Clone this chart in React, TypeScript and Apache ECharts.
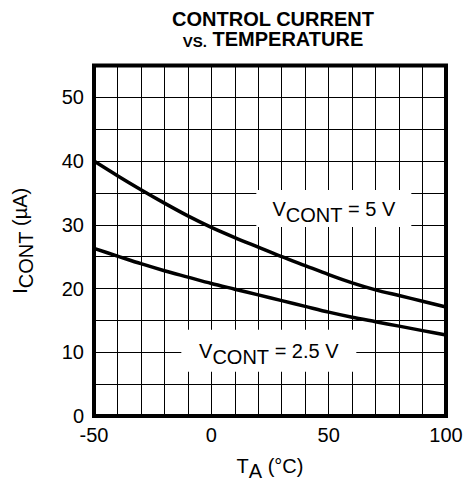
import React, { useEffect, useRef } from "react";
import * as echarts from "echarts";

const temps = [-50, -40, -30, -20, -10, 0, 10, 20, 30, 40, 50, 60, 70, 80, 90, 100];
const icont5V = [40.0, 37.7, 35.5, 33.4, 31.4, 29.6, 28.0, 26.5, 25.0, 23.6, 22.2, 20.9, 19.8, 18.9, 18.0, 17.1];
const icont2V5 = [26.3, 25.1, 23.9, 22.8, 21.8, 20.8, 19.9, 19.0, 18.1, 17.2, 16.3, 15.5, 14.8, 14.1, 13.4, 12.7];
const xTickLabels = [-50, 0, 50, 100];
const yTickLabels = [0, 10, 20, 30, 40, 50];
const label5V = { text: "= 5 V", at: [52.2, 32.56] };
const label2V5 = { text: "= 2.5 V", at: [24.5, 10.23] };

const FONT = "'Liberation Sans', Arial, sans-serif";

export default function App() {
  const ref = useRef<HTMLDivElement>(null);
  useEffect(() => {
    if (!ref.current) return;
    const chart = echarts.init(ref.current, undefined, { renderer: "svg" });
    const rich = {
      v: { fontSize: 20, fontFamily: FONT, color: "#000" },
      s: { fontSize: 20, fontFamily: FONT, color: "#000", padding: [13, 0, 0, 0] },
    };
    const richX = {
      v: { fontSize: 20, fontFamily: FONT, color: "#000" },
      s: { fontSize: 20, fontFamily: FONT, color: "#000", padding: [11, 0, 0, 0] },
    };
    chart.setOption({
      animation: false,
      backgroundColor: "#fff",
      textStyle: { fontFamily: FONT },
      graphic: [
        {
          type: "text",
          x: 273,
          y: 9,
          style: {
            text: "{b|CONTROL CURRENT}\n{s|VS.}{b| TEMPERATURE}",
            textAlign: "center",
            rich: {
              b: { fontSize: 20, fontWeight: "bold", fontFamily: FONT, lineHeight: 20, fill: "#000" },
              s: { fontSize: 15, fontWeight: "bold", fontFamily: FONT, lineHeight: 20, fill: "#000", padding: [4, 0, 0, 0] },
            },
          },
        },
      ],
      grid: {
        left: 94,
        top: 65.5,
        width: 352,
        height: 350.5,
        show: true,
        borderColor: "#000",
        borderWidth: 4,
        containLabel: false,
        outerBoundsMode: "none",
      },
      xAxis: {
        type: "value",
        min: -50,
        max: 100,
        interval: 10,
        axisLine: { show: false },
        axisTick: { show: false },
        splitLine: { show: true, lineStyle: { color: "#000", width: 1 } },
        axisLabel: {
          margin: 9,
          fontSize: 20,
          color: "#000",
          fontFamily: FONT,
          formatter: (v: number) => (xTickLabels.includes(v) ? String(v) : ""),
        },
        name: "{v|T}{s|A}{v| (°C)}",
        nameLocation: "middle",
        nameGap: 34,
        nameTextStyle: { rich: richX },
      },
      yAxis: {
        type: "value",
        min: 0,
        max: 55,
        interval: 5,
        axisLine: { show: false },
        axisTick: { show: false },
        splitLine: { show: true, lineStyle: { color: "#000", width: 1 } },
        axisLabel: {
          margin: 10,
          fontSize: 20,
          color: "#000",
          fontFamily: FONT,
          formatter: (v: number) => (yTickLabels.includes(v) ? String(v) : ""),
        },
        name: "{v|I}{s|CONT}{v| (µA)}",
        nameLocation: "middle",
        nameGap: 58,
        nameTextStyle: { rich },
      },
      series: [
        {
          type: "line",
          data: temps.map((t, i) => [t, icont5V[i]]),
          smooth: 0.3,
          showSymbol: false,
          lineStyle: { color: "#000", width: 3.5 },
          markPoint: {
            symbol: "rect",
            symbolSize: [155, 37],
            itemStyle: { color: "#fff" },
            label: {
              show: true,
              position: "inside",
              formatter: "{v|V}{s|CONT}{v| " + label5V.text + "}",
              rich,
            },
            data: [{ coord: label5V.at }],
          },
        },
        {
          type: "line",
          data: temps.map((t, i) => [t, icont2V5[i]]),
          smooth: 0.3,
          showSymbol: false,
          lineStyle: { color: "#000", width: 3.5 },
          markPoint: {
            symbol: "rect",
            symbolSize: [175, 42],
            itemStyle: { color: "#fff" },
            label: {
              show: true,
              position: "inside",
              formatter: "{v|V}{s|CONT}{v| " + label2V5.text + "}",
              rich,
            },
            data: [{ coord: label2V5.at }],
          },
        },
      ],
    });
    return () => chart.dispose();
  }, []);
  return <div ref={ref} style={{ width: 469, height: 484, position: "absolute", left: 0, top: 0 }} />;
}
